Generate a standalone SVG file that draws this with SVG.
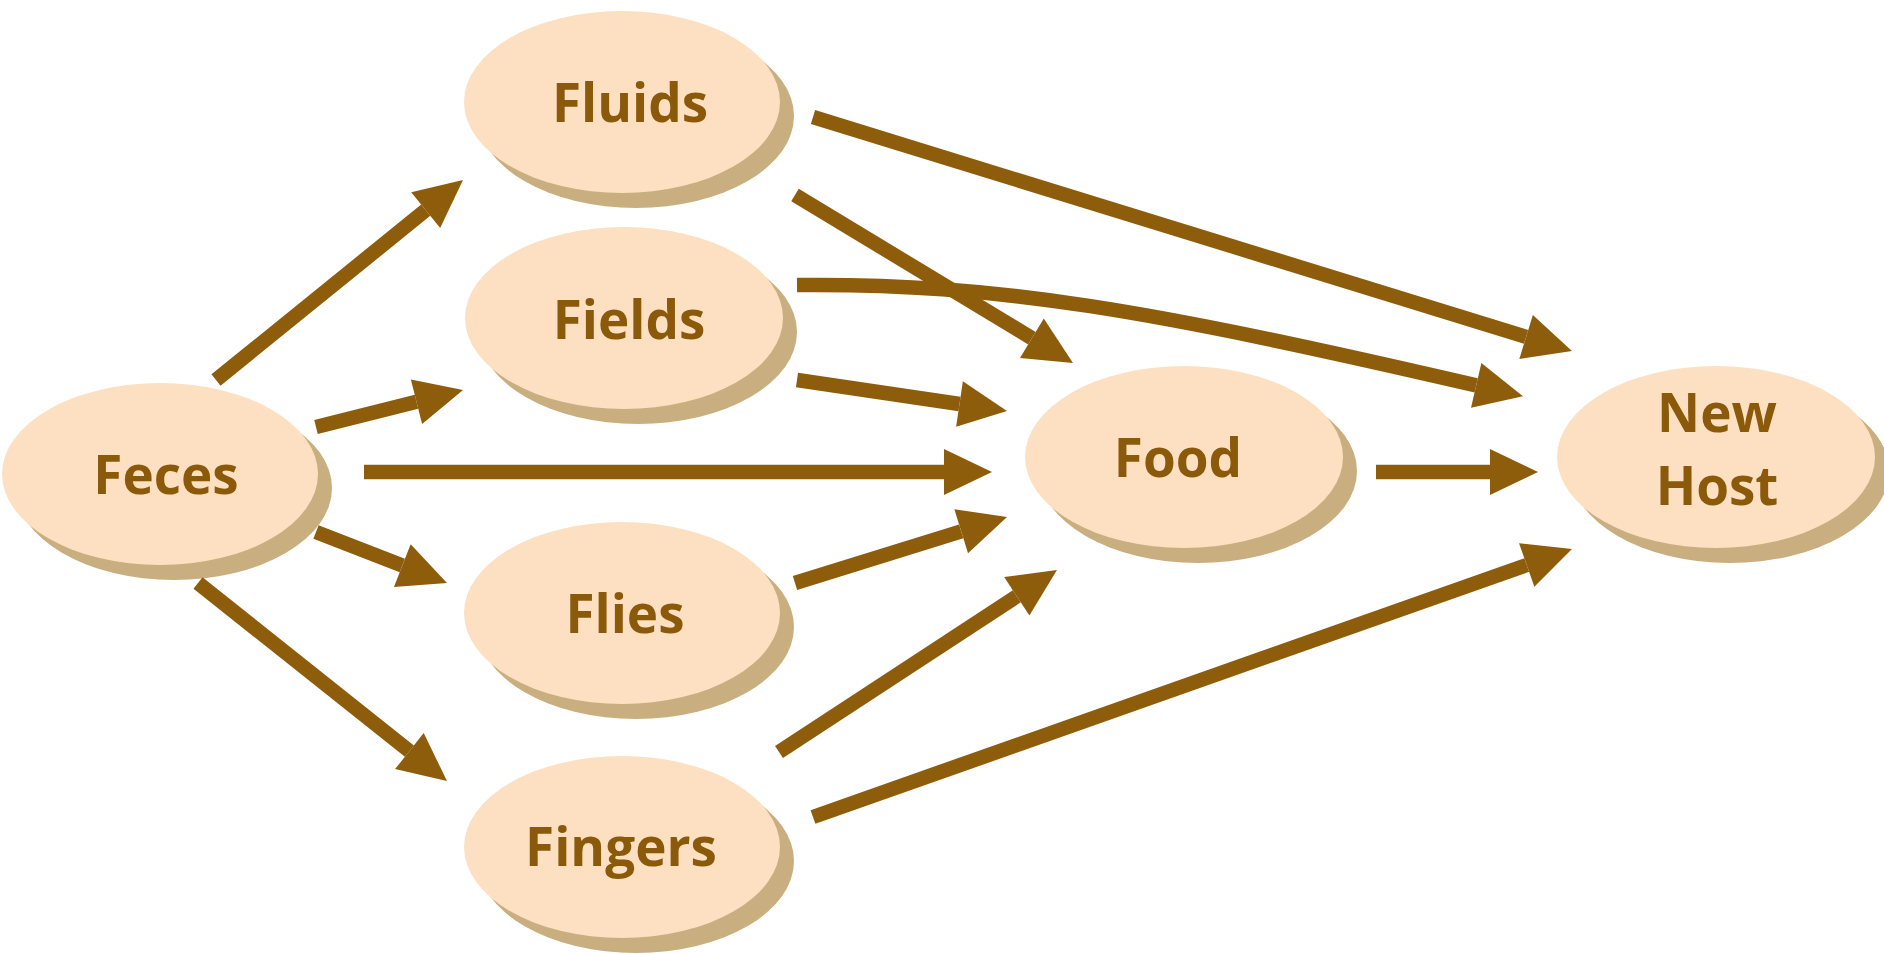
<svg xmlns="http://www.w3.org/2000/svg" width="1884" height="954" viewBox="0 0 1884 954">
<style>
.sh{fill:#C9AE80}
.bd{fill:#FDE0C1}
.lb{font-family:"Open Sans","Liberation Sans",sans-serif;font-weight:700;font-size:53px;fill:#8A5A0A;text-anchor:middle;letter-spacing:0}
.cn{stroke:#8E5D0C;stroke-width:14.5;fill:none;marker-end:url(#ah)}
</style>
<defs>
<marker id="ah" markerUnits="userSpaceOnUse" markerWidth="48" markerHeight="48" refX="0" refY="24" orient="auto" overflow="visible">
<path d="M0,1 L48,24 L0,47 z" fill="#8E5D0C"/>
</marker>
</defs>
<rect width="1884" height="954" fill="#FFFFFF"/>
<g id="feces"><ellipse class="sh" cx="174" cy="488" rx="158" ry="92"/><ellipse class="bd" cx="160" cy="474" rx="158" ry="91"/><text class="lb" x="166" y="494">Feces</text></g>
<g id="fluids"><ellipse class="sh" cx="636" cy="116" rx="158" ry="92"/><ellipse class="bd" cx="622" cy="102" rx="158" ry="91"/><text class="lb" x="630" y="122">Fluids</text></g>
<g id="fields"><ellipse class="sh" cx="638" cy="332" rx="159" ry="92"/><ellipse class="bd" cx="624" cy="318" rx="159" ry="91"/><text class="lb" x="629" y="339">Fields</text></g>
<g id="flies"><ellipse class="sh" cx="636" cy="627" rx="158" ry="92"/><ellipse class="bd" cx="622" cy="613" rx="158" ry="91"/><text class="lb" x="625" y="633">Flies</text></g>
<g id="fingers"><ellipse class="sh" cx="636" cy="861" rx="158" ry="92"/><ellipse class="bd" cx="622" cy="847" rx="158" ry="91"/><text class="lb" x="621" y="866">Fingers</text></g>
<g id="food"><ellipse class="sh" cx="1198" cy="471" rx="159" ry="92"/><ellipse class="bd" cx="1184" cy="457" rx="159" ry="91"/><text class="lb" x="1178" y="477">Food</text></g>
<g id="newhost"><ellipse class="sh" cx="1730" cy="471" rx="159" ry="92"/><ellipse class="bd" cx="1716" cy="457" rx="159" ry="91"/><text class="lb" x="1717" y="432">New</text><text class="lb" x="1717" y="505">Host</text></g>
<g id="connectors">
<line class="cn" x1="216" y1="380" x2="425.7" y2="210.2"/>
<line class="cn" x1="316" y1="427" x2="416.5" y2="401.7"/>
<line class="cn" x1="364" y1="472" x2="944" y2="472"/>
<line class="cn" x1="316" y1="532" x2="402.3" y2="565.6"/>
<line class="cn" x1="198" y1="583" x2="409.4" y2="751.1"/>
<line class="cn" x1="813" y1="117" x2="1526.1" y2="336.9"/>
<line class="cn" x1="795" y1="195" x2="1031.9" y2="338.2"/>
<path class="cn" d="M797,285 C1000,283 1150,310 1476.2,385.4"/>
<line class="cn" x1="797" y1="380" x2="959.5" y2="404"/>
<line class="cn" x1="795" y1="583" x2="961.2" y2="531.3"/>
<line class="cn" x1="779" y1="752" x2="1016.8" y2="596.3"/>
<line class="cn" x1="813" y1="817" x2="1526.7" y2="565"/>
<line class="cn" x1="1376" y1="472" x2="1490" y2="472"/>
</g>
</svg>
